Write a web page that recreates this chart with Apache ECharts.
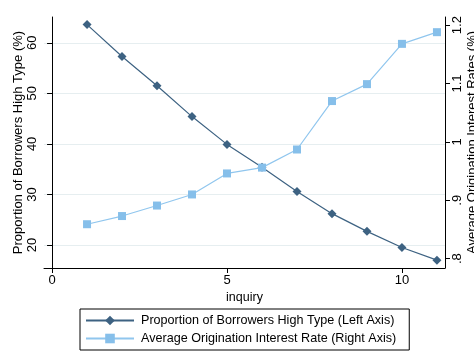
<!DOCTYPE html>
<html>
<head>
<meta charset="utf-8">
<script src="https://cdn.jsdelivr.net/npm/echarts@6/dist/echarts.min.js"></script>
<style>
  html, body { margin: 0; padding: 0; background: #fff; }
  #chart { width: 474px; height: 351px; }
</style>
</head>
<body>
<div id="chart"></div>
<script>
// data
const inquiry = [1, 2, 3, 4, 5, 6, 7, 8, 9, 10, 11];
const shareHighType = [63.6, 57.3, 51.5, 45.4, 39.9, 35.4, 30.6, 26.2, 22.7, 19.5, 17.0];
const avgRate = [0.859, 0.873, 0.891, 0.910, 0.946, 0.956, 0.987, 1.070, 1.099, 1.168, 1.188];
const xTicks = [0, 5, 10];
const leftTicks = [20, 30, 40, 50, 60];
const rightTicks = [0.8, 0.9, 1.0, 1.1, 1.2];

const FONT = "Liberation Sans, Arial, sans-serif";
const DARK = "#3d6282";
const LIGHT = "#86bfea";

const chart = echarts.init(document.getElementById("chart"), null, { renderer: "canvas" });

function fmtRate(v) {
  // stata style: .8 .9 1 1.1 1.2
  let s = String(Math.round(v * 10) / 10);
  if (s.startsWith("0.")) s = s.slice(1);
  return s;
}

chart.setOption({
  backgroundColor: "#fff",
  animation: false,
  textStyle: { fontFamily: FONT, color: "#000" },
  grid: { left: 44, right: 29, top: 17, bottom: 83, containLabel: false, outerBoundsMode: "none" },
  xAxis: {
    type: "value",
    min: -0.23,
    max: 11.23,
    name: "inquiry",
    nameLocation: "middle",
    nameGap: 23,
    nameMoveOverlap: false,
    nameTextStyle: { fontSize: 12.5, color: "#000", fontFamily: FONT },
    axisLine: { show: true, lineStyle: { color: "#000", width: 1 } },
    axisTick: { show: true, length: 5, customValues: xTicks, lineStyle: { color: "#000" } },
    axisLabel: { customValues: xTicks, margin: 6, fontSize: 13, color: "#000", fontFamily: FONT },
    splitLine: { show: false },
  },
  yAxis: [
    {
      type: "value",
      position: "left",
      min: 15.45,
      max: 65.1,
      name: "Proportion of Borrowers High Type (%)",
      nameLocation: "middle",
      nameGap: 19,
      nameMoveOverlap: false,
      nameTextStyle: { fontSize: 13, color: "#000", fontFamily: FONT },
      axisLine: { show: true, lineStyle: { color: "#000", width: 1 } },
      axisTick: { show: true, length: 5, customValues: leftTicks, lineStyle: { color: "#000" } },
      axisLabel: { customValues: leftTicks, rotate: 90, margin: 5, fontSize: 13, color: "#000", fontFamily: FONT },
      splitLine: { show: true, lineStyle: { color: "#e6eef0", width: 1 } },
    },
    {
      type: "value",
      position: "right",
      min: 0.784,
      max: 1.214,
      name: "Average Origination Interest Rates (%)",
      nameLocation: "middle",
      nameGap: 21,
      nameMoveOverlap: false,
      nameTextStyle: { fontSize: 13, color: "#000", fontFamily: FONT },
      axisLine: { show: true, lineStyle: { color: "#000", width: 1 } },
      axisTick: { show: true, length: 5, customValues: rightTicks, lineStyle: { color: "#000" } },
      axisLabel: {
        customValues: rightTicks,
        rotate: 90,
        margin: 6,
        fontSize: 13,
        color: "#000",
        fontFamily: FONT,
        formatter: fmtRate,
      },
      splitLine: { show: false },
    },
  ],
  legend: {
    orient: "vertical",
    left: 80,
    top: 309,
    borderColor: "#000",
    borderWidth: 1,
    padding: [5, 13, 5, 5],
    itemWidth: 48,
    itemHeight: 12,
    itemGap: 5,
    textStyle: { fontSize: 12.6, color: "#000", fontFamily: FONT, padding: [0, 0, 0, 2] },
    data: [
      "Proportion of Borrowers High Type (Left Axis)",
      "Average Origination Interest Rate (Right Axis)",
    ],
  },
  series: [
    {
      name: "Proportion of Borrowers High Type (Left Axis)",
      type: "line",
      yAxisIndex: 0,
      data: inquiry.map((x, i) => [x, shareHighType[i]]),
      symbol: "diamond",
      symbolSize: 9,
      showAllSymbol: true,
      itemStyle: { color: DARK },
      lineStyle: { color: DARK, width: 1.2 },
    },
    {
      name: "Average Origination Interest Rate (Right Axis)",
      type: "line",
      yAxisIndex: 1,
      data: inquiry.map((x, i) => [x, avgRate[i]]),
      symbol: "rect",
      symbolSize: 8,
      showAllSymbol: true,
      itemStyle: { color: LIGHT },
      lineStyle: { color: "#90c6ee", width: 1.2 },
    },
  ],
});
</script>
</body>
</html>
